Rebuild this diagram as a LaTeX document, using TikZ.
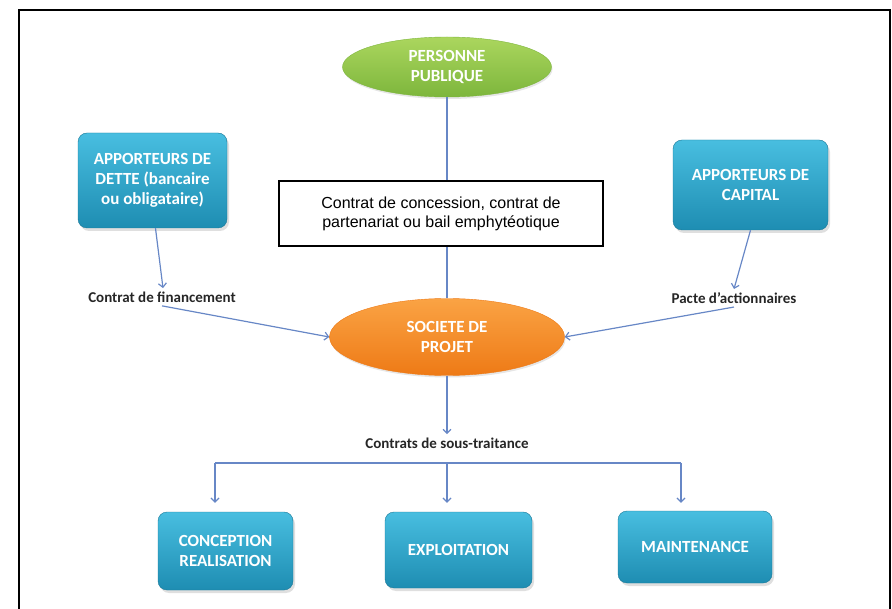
\documentclass[tikz,border=0pt]{standalone}
\usepackage{fontspec}
\setmainfont{Carlito}
\newfontfamily\arialfont{Liberation Sans}
\usetikzlibrary{shapes.geometric,shadows,arrows.meta}

\definecolor{linkblue}{HTML}{6787C6}
\definecolor{boxtop}{HTML}{48BEE0}
\definecolor{boxbot}{HTML}{1E8DB2}
\definecolor{greentop}{HTML}{ABD65E}
\definecolor{greenbot}{HTML}{7DB63C}
\definecolor{orangetop}{HTML}{FAA344}
\definecolor{orangebot}{HTML}{EE7A16}

\tikzset{
  link/.style={-{Straight Barb[length=4pt,width=8pt]}, draw=linkblue, line width=1.2pt},
  bar/.style={draw=linkblue, line width=1.2pt},
  actor/.style={rectangle, rounded corners=9pt, top color=boxtop, bottom color=boxbot,
    draw=boxbot!85!black, line width=0.4pt, text=white, align=center, inner sep=0pt,
    font=\fontsize{17}{20}\selectfont\bfseries,
    drop shadow={opacity=0.25, shadow xshift=2pt, shadow yshift=-3pt}},
  party/.style={ellipse, align=center, inner sep=0pt, text=white, line width=0.4pt,
    font=\fontsize{17}{20}\selectfont\bfseries,
    drop shadow={opacity=0.2, shadow xshift=1pt, shadow yshift=-2pt}},
  deed/.style={rectangle, draw=black, fill=white, line width=1.3pt, align=center,
    minimum width=324pt, minimum height=65pt, font=\arialfont\fontsize{16}{19}\selectfont},
  clause/.style={font=\fontsize{15}{17}\selectfont\bfseries, text=black!85}
}

\begin{document}
\begin{tikzpicture}[x=1pt,y=-1pt]
  \useasboundingbox (0,0) rectangle (892,609);
  \draw[line width=1.3pt] (19,609) -- (19,10) -- (890,10) -- (890,609);

  % the two parties on the centre line
  \node[party, top color=greentop, bottom color=greenbot, draw=greenbot,
        minimum width=209pt, minimum height=60pt] (pub) at (447,67) {PERSONNE\\PUBLIQUE};
  \node[party, top color=orangetop, bottom color=orangebot, draw=orangebot,
        minimum width=235pt, minimum height=77pt] (spv) at (447,337) {SOCIETE DE\\PROJET};
  \draw[bar] (pub.south) -- (spv.north);
  \node[deed] (deal) at (441,213.5) {Contrat de concession, contrat de\\partenariat ou bail emphyt\'eotique};

  % financers
  \node[actor, minimum width=149pt, minimum height=95pt] (dette) at (152.5,180.5)
       {APPORTEURS DE\\DETTE (bancaire\\ou obligataire)};
  \node[actor, minimum width=155pt, minimum height=90pt] (capital) at (750.5,185)
       {APPORTEURS DE\\CAPITAL};

  \node[clause] (fin) at (162,297) {Contrat de financement};
  \node[clause] (pacte) at (734,298) {Pacte d’actionnaires};

  \draw[link] ([xshift=3pt]dette.south) -- ([xshift=1pt]fin.north);
  \draw[link] (fin.south) -- (spv.west);
  \draw[link] (capital.south) -- (pacte.north);
  \draw[link] (pacte.south) -- (spv.east);

  % sub-contractors
  \node[clause] (sous) at (447,443) {Contrats de sous-traitance};
  \draw[link] (spv.south) -- (sous.north);

  \node[actor, minimum width=135pt, minimum height=78pt] (conc) at (225.5,551) {CONCEPTION\\REALISATION};
  \node[actor, minimum width=147pt, minimum height=76pt] (expl) at (458.5,550) {EXPLOITATION};
  \node[actor, minimum width=154pt, minimum height=72pt] (maint) at (695,547) {MAINTENANCE};

  \coordinate (forkL) at (215,463);
  \coordinate (forkM) at (447,463);
  \coordinate (forkR) at (681,463);
  \draw[bar] (forkL) -- (forkR);
  \draw[link, shorten >=9pt] (forkL) -- (forkL |- conc.north);
  \draw[link, shorten >=9pt] (forkM) -- (forkM |- expl.north);
  \draw[link, shorten >=8pt] (forkR) -- (forkR |- maint.north);
\end{tikzpicture}
\end{document}
